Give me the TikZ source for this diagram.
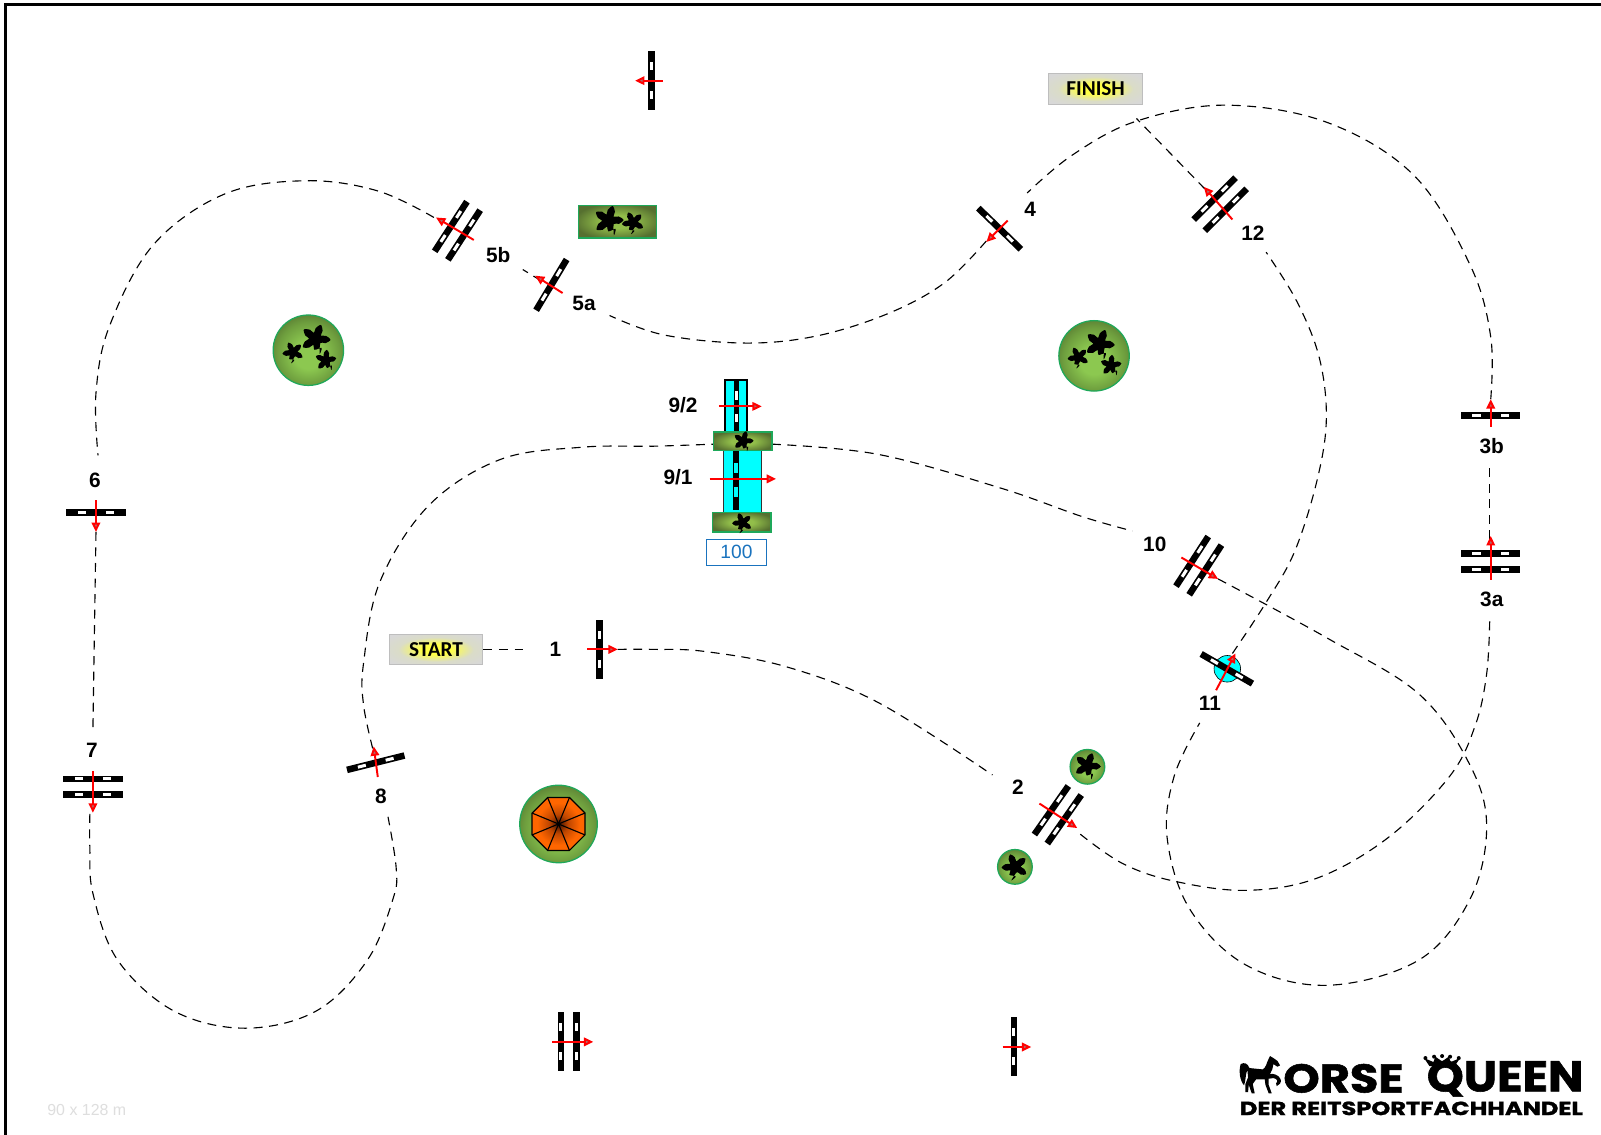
\documentclass[tikz,border=0pt]{standalone}
\usepackage{fontspec}
\setmainfont{Liberation Sans}
\newfontfamily\signfont{Carlito}
\newfontfamily\logofont{Poppins}[BoldFeatures={FakeBold=1.3}]
\usetikzlibrary{arrows.meta}
\definecolor{rim}{RGB}{30,168,90}
\definecolor{treeA}{RGB}{140,200,80}
\definecolor{treeB}{RGB}{110,158,62}
\definecolor{treeC}{RGB}{80,110,46}
\definecolor{treeD}{RGB}{104,146,62}
\definecolor{hedgeA}{RGB}{146,190,74}
\definecolor{hedgeB}{RGB}{86,112,48}
\definecolor{umbA}{RGB}{60,16,0}
\definecolor{umbB}{RGB}{190,70,0}
\definecolor{umbC}{RGB}{255,102,0}
\definecolor{signA}{RGB}{255,255,70}
\definecolor{signB}{RGB}{218,220,200}
\definecolor{signB2}{RGB}{216,216,216}
\definecolor{signedge}{RGB}{190,190,190}
\definecolor{poolcol}{RGB}{0,255,255}
\definecolor{bluebox}{RGB}{26,115,190}
\definecolor{tipfill}{RGB}{170,110,110}
\pgfdeclareradialshading{treeball}{\pgfpoint{0bp}{-4bp}}{color(0bp)=(treeA);color(10bp)=(treeA);color(22bp)=(treeB);color(32bp)=(treeC);color(40bp)=(treeD);color(50bp)=(treeD)}
\pgfdeclareradialshading{hedgeball}{\pgfpoint{0bp}{0bp}}{color(0bp)=(hedgeA);color(10bp)=(hedgeA);color(28bp)=(hedgeB);color(50bp)=(hedgeB)}
\pgfdeclareradialshading{umbball}{\pgfpoint{0bp}{0bp}}{color(0bp)=(umbA);color(9bp)=(umbB);color(20bp)=(umbC);color(50bp)=(umbC)}
\pgfdeclareradialshading{signball}{\pgfpoint{0bp}{0bp}}{color(0bp)=(signA);color(8bp)=(signA);color(20bp)=(signB);color(32bp)=(signB2);color(50bp)=(signB2)}
\tikzset{
  x=0.5pt,y=-0.5pt,
  every pic/.style={transform shape},
  track/.style={draw=black,line width=0.55pt,dash pattern=on 4.4pt off 3.2pt},
  lab/.style={font=\fontsize{10.2}{12}\selectfont\bfseries,text=black,inner sep=0pt},
  signbox/.style={draw=signedge,line width=0.5pt,shade,shading=signball,minimum width=46pt,minimum height=15pt,inner sep=0pt,font=\signfont\fontsize{10.4}{12}\selectfont\bfseries},
  jumparrow/.style={draw=red,line width=0.95pt,-{Triangle[length=4.6pt,width=4.2pt,fill=tipfill]}},
  railpic/.pic={
    \fill[black] (-29,-3.2) rectangle (29,3.2);
    \fill[white] (-18,-1.5) rectangle (-10,1.5);
    \fill[white] (10,-1.5) rectangle (18,1.5);
  },
  singlejump/.pic={\pic {railpic};},
  doublejump/.pic={\pic at (0,-7.7) {railpic};\pic at (0,7.7) {railpic};},
  leafpic/.pic={
    \fill[black] plot[smooth cycle,tension=.5] coordinates {
      (90:11)(70:7.6)(110:7.6)(126:4.4)(142:7.6)(162:10.5)(182:7.6)(198:4.4)
      (214:7.6)(234:10.5)(254:7.6)(270:4.4)(286:7.6)(306:10.5)(326:7.6)(342:4.4)
      (358:7.6)(18:10.5)(38:7.6)(54:4.4)};
  },
  treedisk/.style={draw=rim,line width=0.6pt,shade,shading=treeball},
  hedgerect/.style={draw=rim,line width=0.6pt,shade,shading=hedgeball},
}
\begin{document}
\begin{tikzpicture}
\useasboundingbox (0,0) rectangle (1568,1111.6);
\fill[white] (0,0) rectangle (1568,1111.6);
\draw[black,line width=1.5pt] (5,1111.6) -- (5,4) -- (1568,4);

% ---- signs
\node[signbox] (start) at (427,636) {START};
\node[signbox] (finish) at (1073,87) {FINISH};

% ---- track end points
\coordinate (s1a) at (515,636);
\coordinate (t1a) at (605,636);   \coordinate (t1b) at (972,759);
\coordinate (t2a) at (1058,817);  \coordinate (t2b) at (1459,608);
\coordinate (t3a) at (1459,528);  \coordinate (t3b) at (1459,455);
\coordinate (t4a) at (1460,391);  \coordinate (t4b) at (1006,189);
\coordinate (t5a) at (966,236);   \coordinate (t5b) at (597,309);
\coordinate (t6a) at (530,275);   \coordinate (t6b) at (512,264);
\coordinate (t7a) at (425,213);   \coordinate (t7b) at (96,446);
\coordinate (t8a) at (94,521);    \coordinate (t8b) at (91,714);
\coordinate (t9a) at (88,797);    \coordinate (t9b) at (380,800);
\coordinate (t10a) at (365,733);  \coordinate (t10b) at (699,435);
\coordinate (t11a) at (756,435);  \coordinate (t11b) at (1109,520);
\coordinate (t12a) at (1193,567); \coordinate (t12b) at (1175,708);
\coordinate (t13a) at (1207,640); \coordinate (t13b) at (1240,247);
\coordinate (t14a) at (1180,185); \coordinate (t14b) at (1113,116);

% ---- track
\draw[track] (start) -- (s1a);
\draw[track] plot[smooth,tension=.6] coordinates {(t1a) (640,636) (690,638) (770,653) (860,688) (t1b)};
\draw[track] plot[smooth,tension=.6] coordinates {(t2a) (1100,846) (1150,863) (1220,872) (1290,860) (1360,820) (1420,760) (1445,710) (1456,660) (t2b)};
\draw[track] (t3a) -- (t3b);
\draw[track] plot[smooth,tension=.6] coordinates {(t4a) (1460,330) (1440,260) (1385,172) (1300,120) (1200,103) (1112,119) (1050,152) (t4b)};
\draw[track] plot[smooth,tension=.6] coordinates {(t5a) (925,277) (870,307) (800,329) (730,336) (650,328) (t5b)};
\draw[track] (t6a) -- (t6b);
\draw[track] plot[smooth,tension=.6] coordinates {(t7a) (370,187) (300,177) (220,190) (150,240) (107,320) (94,385) (t7b)};
\draw[track] (t8a) -- (t8b);
\draw[track] plot[smooth,tension=.6] coordinates {(t9a) (88,830) (91,875) (115,940) (170,990) (240,1007) (310,990) (360,940) (385,880) (388,850) (t9b)};
\draw[track] plot[smooth,tension=.6] coordinates {(t10a) (356,690) (356,650) (372,570) (420,495) (490,450) (570,438) (640,437) (t10b)};
\draw[track] plot[smooth,tension=.6] coordinates {(t11a) (860,445) (980,478) (1060,506) (t11b)};
\draw[track] plot[smooth,tension=.6] coordinates {(t12a) (1300,625) (1390,680) (1440,750) (1456,810) (1440,880) (1390,940) (1300,965) (1220,945) (1165,890) (1143,820) (1150,760) (t12b)};
\draw[track] plot[smooth,tension=.6] coordinates {(t13a) (1240,590) (1268,540) (1290,470) (1299,410) (1292,350) (1270,295) (t13b)};
\draw[track] (t14a) -- (t14b);

% ---- trees
\path[treedisk] (302,343) circle (34.5);
\pic[scale=1.4,rotate=15] at (309,332) {leafpic};
\pic[scale=1,rotate=-10] at (287,345) {leafpic};
\pic[scale=1,rotate=30] at (319,353) {leafpic};
\path[treedisk] (1071.5,348.5) circle (34.5);
\pic[scale=1.4,rotate=15] at (1077,337) {leafpic};
\pic[scale=1,rotate=-10] at (1056,350) {leafpic};
\pic[scale=1,rotate=30] at (1088,358) {leafpic};
\path[hedgerect] (566.5,201) rectangle (643,233);
\pic[scale=1.4,rotate=20] at (596,216) {leafpic};
\pic[scale=1.05,rotate=-10] at (620,218) {leafpic};
\path[treedisk] (1065,751) circle (17);
\pic[scale=1.25,rotate=15] at (1065,750) {leafpic};
\path[treedisk] (994,849) circle (17);
\pic[scale=1.25,rotate=-15] at (994,849) {leafpic};
% umbrella
\path[treedisk] (547,807) circle (38);
\path[draw=black,line width=0.6pt,shade,shading=umbball]
  (547+25.9,807+10.7) -- (547+10.7,807+25.9) -- (547-10.7,807+25.9) -- (547-25.9,807+10.7)
  -- (547-25.9,807-10.7) -- (547-10.7,807-25.9) -- (547+10.7,807-25.9) -- (547+25.9,807-10.7) -- cycle;
\draw[black,line width=0.55pt]
  (547+25.9,807+10.7) -- (547-25.9,807-10.7)
  (547+10.7,807+25.9) -- (547-10.7,807-25.9)
  (547-10.7,807+25.9) -- (547+10.7,807-25.9)
  (547-25.9,807+10.7) -- (547+25.9,807-10.7);

% ---- jumps
\pic[rotate=90] at (638,79) {singlejump};
\draw[jumparrow] (649,79) -- (622,79);
\pic[rotate=57] at (448,226) {doublejump};
\draw[jumparrow] (464,235) -- (427,213);
\pic[rotate=59] at (540,279) {singlejump};
\draw[jumparrow] (551,287) -- (524,270);
\pic[rotate=-44] at (979,224) {singlejump};
\draw[jumparrow] (987,216) -- (966,237);
\pic[rotate=45] at (1195,200) {doublejump};
\draw[jumparrow] (1207,215) -- (1179,183);
\pic at (1460,407) {singlejump};
\draw[jumparrow] (1460,418) -- (1460,391);
\pic at (1460,550) {doublejump};
\draw[jumparrow] (1460,568) -- (1460,525);
\pic at (94,502) {singlejump};
\draw[jumparrow] (94,490) -- (94,521);
\pic at (91,770.5) {doublejump};
\draw[jumparrow] (91,755) -- (91,796);
\pic[rotate=14] at (368,747) {singlejump};
\draw[jumparrow] (370,761) -- (366,731);
\pic[rotate=90] at (587,636) {singlejump};
\draw[jumparrow] (575,636) -- (605,636);
\pic[rotate=55] at (1036,798) {doublejump};
\draw[jumparrow] (1018,787) -- (1055,811);
\pic[rotate=57] at (1174,554) {doublejump};
\draw[jumparrow] (1157,546) -- (1193,567);
\pic[rotate=90] at (557,1020) {doublejump};
\draw[jumparrow] (541,1020.4) -- (581,1020.4);
\pic[rotate=90] at (993,1025) {singlejump};
\draw[jumparrow] (982,1025.4) -- (1010,1025.4);
% jump 11 on a water disk
\path[fill=poolcol,draw=black,line width=0.3pt] (1202,655) circle (13);
\pic[rotate=-30] at (1201.5,655) {singlejump};
\draw[jumparrow] (1191,676) -- (1210,640);

% ---- combination 9
\path[fill=poolcol,draw=black,line width=0.9pt] (710,372) rectangle (731.5,424);
\fill[black] (719.2,372) rectangle (724,424);
\fill[white] (720.2,383) rectangle (723,392);
\fill[white] (720.2,405) rectangle (723,413);
\path[fill=poolcol,draw=black!80,line width=0.4pt] (708,441) rectangle (746,502);
\fill[black] (718,441) rectangle (723.5,499);
\fill[poolcol] (719,453) rectangle (722.5,463);
\fill[poolcol] (719,477) rectangle (722.5,487);
\path[hedgerect] (699,423) rectangle (756,441.5);
\pic[scale=0.95,rotate=20] at (728,432) {leafpic};
\path[hedgerect] (698,502) rectangle (755,521);
\pic[scale=0.95,rotate=-15] at (727,512) {leafpic};
\draw[jumparrow] (704,398) -- (746,398);
\draw[jumparrow] (695,469) -- (760,469);
\node[draw=bluebox,line width=0.5pt,minimum width=29.5pt,minimum height=12.5pt,inner sep=0pt,text=bluebox,font=\fontsize{9.4}{11}\selectfont] (n100) at (721.3,541) {100};

% ---- labels
\node[lab] (l1) at (544,636) {1};
\node[lab] (l2) at (997,771) {2};
\node[lab] (l3a) at (1461,587) {3a};
\node[lab] (l3b) at (1461,437) {3b};
\node[lab] (l4) at (1009,205) {4};
\node[lab] (l5a) at (572,297) {5a};
\node[lab] (l5b) at (488,250) {5b};
\node[lab] (l6) at (93,470) {6};
\node[lab] (l7) at (90,735) {7};
\node[lab] (l8) at (373,780) {8};
\node[lab] (l91) at (664,467) {9/1};
\node[lab] (l92) at (669,397) {9/2};
\node[lab] (l10) at (1131,533) {10};
\node[lab] (l11) at (1185,689) {11};
\node[lab] (l12) at (1227,228) {12};
\node[text=black!13,inner sep=0pt,font=\fontsize{7.8}{9}\selectfont] (dims) at (85,1087) {90 x 128 m};

% ---- logo (coordinates are pixels of a 3x crop of the logo)
\begin{scope}[shift={(1194.9,1018.6)},scale=0.3265]
  \fill[black] (62,72) .. controls (72,66) and (84,70) .. (88,84)
    -- (128,88) .. controls (138,84) and (140,66) .. (146,56)
    -- (150,48) -- (160,54) .. controls (170,58) and (176,66) .. (180,76)
    -- (172,80) -- (160,72) .. controls (158,84) and (156,92) .. (150,102)
    .. controls (160,100) and (176,104) .. (182,118)
    .. controls (184,128) and (178,136) .. (170,138) -- (168,130)
    .. controls (174,124) and (172,116) .. (160,114)
    -- (146,116) -- (146,135) -- (155,160) -- (146,160) -- (136,134) -- (134,118)
    -- (108,118) -- (98,132) -- (104,160) -- (95,160) -- (86,134) -- (84,156) -- (76,156) -- (76,132)
    -- (84,112) -- (82,90) .. controls (76,100) and (78,120) .. (72,136)
    .. controls (58,120) and (56,90) .. (62,72) -- cycle;
  \fill[black] (628,78) -- (612,54) -- (640,66) -- (646,50) -- (666,64) -- (686,50) -- (692,66) -- (720,54) -- (704,78) -- cycle;
  \foreach \cx/\cy in {616/54,642/50,666/48,690/50,716/54} \fill[black] (\cx,\cy) circle (6);
  \node[inner sep=0pt] (logo1) at (370,115) {\resizebox{58.8pt}{14pt}{\logofont\bfseries ORSE}};
  \node[inner sep=0pt] (logo2) at (855,116) {\resizebox{76.7pt}{15pt}{\logofont\bfseries QUEEN}};
  \node[inner sep=0pt] (logo3) at (574,205) {\resizebox{168pt}{6.6pt}{\logofont\bfseries DER REITSPORTFACHHANDEL}};
\end{scope}
\end{tikzpicture}
\end{document}
